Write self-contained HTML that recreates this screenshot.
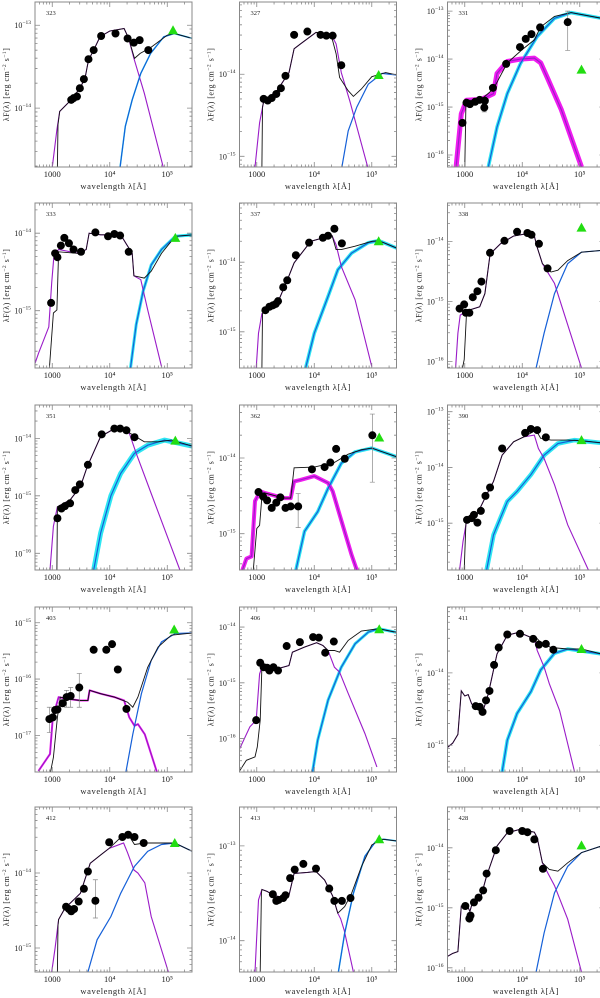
<!DOCTYPE html>
<html><head><meta charset="utf-8"><style>
html,body{margin:0;padding:0;background:#fff;}
svg{display:block;font-family:"Liberation Serif","DejaVu Serif",serif;}
</style></head><body>
<svg id="fig" width="600" height="998" viewBox="0 0 600 998" xmlns="http://www.w3.org/2000/svg"></svg>
<script>
// ---- data (log10 wavelength [A], log10 lambda F [erg cm^-2 s^-1]) ----
const p323_ylim=[-14.71,-12.72];
const p323_star=[[3.0,-14.71],[3.08,-14.26],[3.13,-14.04],[3.33,-13.9],[3.48,-13.76],[3.57,-13.64],[3.63,-13.42],[3.72,-13.3],[3.83,-13.14],[4.0,-13.07],[4.25,-13.04],[4.33,-13.16],[4.42,-13.4],[4.6,-13.82],[4.93,-14.71]];
const p323_total=[[3.09,-14.71],[3.1,-14.2],[3.13,-14.04],[3.33,-13.9],[3.48,-13.76],[3.57,-13.64],[3.63,-13.42],[3.72,-13.3],[3.83,-13.14],[4.0,-13.07],[4.25,-13.04],[4.33,-13.16],[4.43,-13.4],[4.53,-13.34],[4.71,-13.27],[5.0,-13.12],[5.12,-13.1],[5.44,-13.16]];
const p323_dust=[[4.18,-14.71],[4.27,-14.22],[4.39,-13.9],[4.54,-13.58],[4.71,-13.34],[4.94,-13.14],[5.12,-13.1],[5.44,-13.16]];
const p323_phot=[[3.33,-13.9],[3.37,-13.88],[3.43,-13.86],[3.48,-13.76],[3.55,-13.65],[3.63,-13.41],[3.72,-13.3],[3.85,-13.13],[4.1,-13.1],[4.31,-13.16],[4.42,-13.21],[4.52,-13.18],[4.67,-13.3]];
const p323_ir=[5.1,-13.06];

const p327_ylim=[-15.13,-13.12];
const p327_star=[[2.97,-15.13],[3.05,-14.59],[3.12,-14.33],[3.35,-14.2],[3.56,-13.98],[3.65,-13.69],[3.76,-13.63],[4.03,-13.49],[4.29,-13.51],[4.38,-13.63],[4.47,-13.98],[4.62,-14.33],[4.93,-15.13]];
const p327_total=[[3.09,-15.13],[3.1,-14.4],[3.12,-14.33],[3.35,-14.2],[3.56,-13.98],[3.65,-13.69],[3.76,-13.63],[4.03,-13.49],[4.29,-13.51],[4.38,-13.75],[4.44,-14.04],[4.59,-14.2],[4.68,-14.27],[4.82,-14.18],[5.0,-14.03],[5.24,-13.98],[5.45,-14.01]];
const p327_dust=[[4.48,-15.13],[4.59,-14.69],[4.74,-14.4],[4.94,-14.12],[5.18,-13.99],[5.45,-14.01]];
const p327_phot=[[3.12,-14.3],[3.19,-14.32],[3.26,-14.29],[3.34,-14.24],[3.42,-14.17],[3.5,-14.02],[3.65,-13.52],[3.88,-13.48],[4.11,-13.52],[4.21,-13.53],[4.32,-13.53],[4.47,-13.89]];
const p327_ir=[5.12,-14.01];

const p331_ylim=[-16.25,-12.81];
const p331_star=[[2.85,-16.25],[2.94,-15.14],[3.03,-14.86],[3.29,-14.84],[3.5,-14.72],[3.56,-14.3],[3.74,-14.05],[3.97,-14.0],[4.21,-13.98],[4.32,-14.08],[4.44,-14.4],[4.68,-15.06],[5.03,-16.25]];
const p331_total=[[3.0,-16.25],[3.02,-14.95],[3.03,-14.88],[3.29,-14.84],[3.5,-14.62],[3.74,-14.08],[4.0,-13.8],[4.21,-13.6],[4.32,-13.33],[4.56,-13.11],[4.85,-13.03],[5.38,-13.15]];
const p331_dust=[[3.41,-16.25],[3.56,-15.42],[3.74,-14.72],[3.97,-14.09],[4.26,-13.53],[4.56,-13.15],[4.85,-13.03],[5.38,-13.15]];
const p331_phot=[[2.96,-15.33],[3.03,-14.91],[3.09,-14.94],[3.18,-14.89],[3.26,-14.85],[3.35,-14.87],[3.34,-15.01],[3.49,-14.6],[3.72,-14.1],[3.96,-13.75],[4.06,-13.58],[4.16,-13.48],[4.31,-13.34],[4.79,-13.23]];
const p331_ir=[5.03,-14.22];
const p331_err=[[4.79,-13.0,-13.82],[3.34,-14.95,-15.1]];

const p333_ylim=[-15.74,-13.61];
const p333_star=[[2.7,-15.68],[2.76,-15.55],[2.94,-15.21],[2.99,-14.64],[3.03,-14.28],[3.11,-14.21],[3.46,-14.26],[3.59,-14.21],[3.64,-14.0],[3.84,-14.02],[4.19,-14.02],[4.28,-14.13],[4.39,-14.26],[4.42,-14.55],[4.54,-14.6],[4.66,-14.99],[4.9,-15.72]];
const p333_total=[[2.95,-15.74],[3.02,-15.03],[3.08,-14.99],[3.11,-14.24],[3.46,-14.26],[3.59,-14.21],[3.64,-14.0],[3.84,-14.02],[4.19,-14.02],[4.28,-14.13],[4.39,-14.26],[4.42,-14.55],[4.6,-14.58],[4.72,-14.49],[4.9,-14.26],[5.14,-14.04],[5.46,-14.02]];
const p333_dust=[[4.36,-15.74],[4.46,-15.18],[4.58,-14.75],[4.72,-14.41],[4.9,-14.21],[5.14,-14.04],[5.46,-14.02]];
const p333_phot=[[2.98,-14.9],[3.05,-14.26],[3.09,-14.31],[3.15,-14.16],[3.21,-14.06],[3.29,-14.13],[3.37,-14.21],[3.5,-14.24],[3.75,-13.99],[3.97,-14.04],[4.08,-14.01],[4.18,-14.03],[4.33,-14.24]];
const p333_ir=[5.14,-14.06];

const p337_ylim=[-15.52,-13.15];
const p337_star=[[2.99,-15.52],[3.03,-15.02],[3.09,-14.74],[3.18,-14.69],[3.38,-14.55],[3.53,-14.26],[3.65,-14.01],[3.94,-13.7],[4.24,-13.63],[4.31,-13.62],[4.38,-13.75],[4.47,-14.06],[4.71,-14.54],[5.0,-15.5]];
const p337_total=[[3.09,-15.52],[3.1,-14.74],[3.18,-14.69],[3.38,-14.55],[3.53,-14.26],[3.65,-14.01],[3.94,-13.7],[4.24,-13.63],[4.31,-13.62],[4.38,-13.82],[4.47,-13.82],[4.71,-13.77],[5.0,-13.7],[5.12,-13.69],[5.44,-13.8]];
const p337_dust=[[3.85,-15.52],[4.0,-15.02],[4.24,-14.49],[4.41,-14.11],[4.65,-13.87],[4.94,-13.72],[5.12,-13.69],[5.44,-13.8]];
const p337_phot=[[3.15,-14.69],[3.22,-14.64],[3.28,-14.62],[3.33,-14.6],[3.37,-14.56],[3.46,-14.36],[3.53,-14.26],[3.68,-13.9],[3.91,-13.72],[4.15,-13.65],[4.24,-13.62],[4.35,-13.52],[4.48,-13.73]];
const p337_ir=[5.12,-13.7];

const p338_ylim=[-16.11,-13.36];
const p338_star=[[2.84,-16.11],[2.88,-15.53],[2.92,-15.23],[2.97,-15.2],[3.06,-15.15],[3.26,-15.09],[3.35,-14.87],[3.44,-14.21],[3.62,-14.04],[3.85,-13.91],[4.03,-13.88],[4.21,-13.91],[4.26,-14.1],[4.35,-14.37],[4.56,-14.7],[5.03,-16.11]];
const p338_total=[[2.96,-16.11],[2.99,-15.97],[3.03,-15.2],[3.06,-15.15],[3.26,-15.09],[3.35,-14.87],[3.44,-14.21],[3.62,-14.04],[3.85,-13.91],[4.03,-13.88],[4.21,-13.91],[4.26,-14.1],[4.35,-14.37],[4.5,-14.51],[4.62,-14.48],[4.79,-14.32],[5.03,-14.18],[5.38,-14.15]];
const p338_dust=[[4.24,-16.11],[4.38,-15.53],[4.56,-14.87],[4.79,-14.37],[5.03,-14.18],[5.38,-14.15]];
const p338_phot=[[2.91,-15.12],[2.99,-15.05],[3.02,-15.19],[3.08,-15.19],[3.14,-14.93],[3.22,-14.83],[3.29,-14.67],[3.44,-14.19],[3.69,-13.99],[3.91,-13.84],[4.09,-13.86],[4.16,-13.89],[4.29,-14.04],[4.44,-14.45]];
const p338_ir=[5.03,-13.77];

const p351_ylim=[-16.29,-13.42];
const p351_star=[[2.96,-16.29],[3.02,-15.53],[3.09,-15.19],[3.31,-15.07],[3.49,-14.84],[3.61,-14.49],[3.84,-13.97],[4.08,-13.83],[4.22,-13.83],[4.34,-13.91],[4.46,-14.26],[4.72,-14.96],[5.22,-16.29]];
const p351_total=[[3.08,-16.29],[3.09,-15.19],[3.31,-15.07],[3.49,-14.84],[3.61,-14.49],[3.84,-13.97],[4.08,-13.83],[4.22,-13.83],[4.4,-13.94],[4.6,-14.06],[4.84,-14.06],[5.07,-14.03],[5.46,-14.14]];
const p351_dust=[[3.72,-16.29],[3.84,-15.65],[4.02,-15.0],[4.19,-14.61],[4.43,-14.26],[4.66,-14.12],[4.95,-14.03],[5.46,-14.14]];
const p351_phot=[[3.09,-15.39],[3.16,-15.22],[3.22,-15.18],[3.31,-15.13],[3.4,-14.9],[3.48,-14.8],[3.62,-14.46],[3.86,-13.93],[4.08,-13.83],[4.18,-13.83],[4.29,-13.86],[4.43,-13.98]];
const p351_ir=[5.14,-14.04];

const p362_ylim=[-15.48,-13.3];
const p362_star=[[2.75,-15.48],[2.82,-15.33],[2.91,-15.3],[2.97,-14.57],[3.06,-14.44],[3.13,-14.46],[3.47,-14.53],[3.59,-14.53],[3.65,-14.31],[3.76,-14.29],[4.0,-14.24],[4.24,-14.33],[4.32,-14.44],[4.44,-14.75],[4.65,-15.28],[4.74,-15.48]];
const p362_total=[[2.94,-15.48],[3.0,-14.93],[3.05,-14.89],[3.09,-14.51],[3.13,-14.46],[3.47,-14.53],[3.59,-14.53],[3.65,-14.13],[4.0,-14.12],[4.35,-14.06],[4.59,-13.95],[4.82,-13.89],[5.0,-13.87],[5.45,-13.99]];
const p362_dust=[[3.68,-15.48],[3.83,-14.97],[4.06,-14.71],[4.24,-14.4],[4.47,-14.07],[4.71,-13.92],[5.0,-13.87],[5.45,-13.99]];
const p362_phot=[[3.03,-14.45],[3.11,-14.51],[3.18,-14.56],[3.26,-14.66],[3.34,-14.59],[3.41,-14.52],[3.5,-14.66],[3.59,-14.64],[3.72,-14.64],[3.96,-14.15],[4.18,-14.12],[4.28,-14.06],[4.38,-13.88],[4.53,-14.01],[5.01,-13.7]];
const p362_ir=[5.13,-13.73];
const p362_err=[[5.01,-13.42,-14.32],[3.72,-14.47,-14.92]];

const p390_ylim=[-15.84,-12.88];
const p390_star=[[2.91,-15.84],[2.97,-15.33],[3.03,-14.97],[3.21,-14.85],[3.38,-14.49],[3.5,-14.25],[3.65,-13.78],[3.85,-13.54],[4.03,-13.45],[4.21,-13.42],[4.28,-13.66],[4.38,-13.84],[4.56,-14.31],[4.79,-15.03],[5.15,-15.84]];
const p390_total=[[2.99,-15.84],[3.02,-15.0],[3.03,-14.97],[3.21,-14.85],[3.38,-14.49],[3.5,-14.25],[3.65,-13.78],[3.85,-13.54],[4.03,-13.45],[4.24,-13.33],[4.32,-13.48],[4.5,-13.51],[4.79,-13.51],[5.03,-13.52],[5.38,-13.56]];
const p390_dust=[[3.38,-15.84],[3.5,-15.21],[3.74,-14.61],[3.91,-14.43],[4.15,-14.13],[4.38,-13.78],[4.62,-13.57],[4.91,-13.51],[5.38,-13.56]];
const p390_phot=[[3.04,-14.94],[3.12,-14.91],[3.16,-14.85],[3.22,-14.99],[3.28,-14.78],[3.36,-14.51],[3.44,-14.36],[3.65,-13.66],[4.05,-13.38],[4.15,-13.31],[4.26,-13.33],[4.41,-13.46]];
const p390_ir=[5.03,-13.51];

const p403_ylim=[-17.65,-14.72];
const p403_star=[[2.76,-17.63],[2.96,-17.33],[3.01,-16.68],[3.11,-16.32],[3.25,-16.35],[3.49,-16.38],[3.62,-16.38],[3.65,-16.2],[3.84,-16.26],[4.08,-16.32],[4.25,-16.38],[4.34,-16.68],[4.43,-16.83],[4.49,-16.8],[4.61,-16.98],[4.82,-17.65]];
const p403_total=[[2.97,-17.65],[3.02,-17.39],[3.09,-16.68],[3.14,-16.32],[3.25,-16.35],[3.49,-16.38],[3.62,-16.38],[3.65,-16.2],[3.84,-16.26],[4.08,-16.32],[4.31,-16.41],[4.4,-16.5],[4.49,-16.32],[4.66,-15.79],[4.84,-15.43],[5.07,-15.22],[5.46,-15.18]];
const p403_dust=[[4.28,-17.65],[4.4,-16.98],[4.55,-16.26],[4.72,-15.67],[4.9,-15.34],[5.14,-15.19],[5.46,-15.18]];
const p403_phot=[[2.95,-16.71],[3.01,-16.68],[3.05,-16.55],[3.09,-16.54],[3.18,-16.43],[3.25,-16.32],[3.32,-16.3],[3.47,-16.15],[3.72,-15.48],[3.94,-15.48],[4.04,-15.38],[4.14,-15.83],[4.29,-16.53]];
const p403_ir=[5.12,-15.12];
const p403_err=[[2.95,-16.5,-16.95],[3.32,-16.15,-16.5],[3.47,-15.9,-16.5],[3.25,-16.2,-16.5]];

const p406_ylim=[-16.6,-13.64];
const p406_star=[[2.69,-16.21],[2.88,-15.79],[2.99,-15.67],[3.05,-14.84],[3.09,-14.72],[3.35,-14.75],[3.56,-14.69],[3.62,-14.45],[3.83,-14.36],[4.04,-14.28],[4.15,-14.33],[4.24,-14.42],[4.35,-14.72],[4.44,-14.81],[4.59,-15.19],[4.88,-15.91],[5.09,-16.51]];
const p406_total=[[2.69,-16.6],[2.82,-16.39],[2.97,-16.33],[3.01,-16.15],[3.06,-15.67],[3.09,-14.72],[3.35,-14.75],[3.56,-14.69],[3.62,-14.45],[3.83,-14.36],[4.04,-14.28],[4.15,-14.33],[4.24,-14.42],[4.35,-14.42],[4.44,-14.45],[4.59,-14.24],[4.82,-14.07],[5.12,-14.03],[5.45,-14.1]];
const p406_dust=[[3.97,-16.6],[4.06,-16.03],[4.24,-15.31],[4.47,-14.72],[4.71,-14.3],[4.94,-14.09],[5.12,-14.03],[5.45,-14.1]];
const p406_phot=[[2.99,-15.67],[3.06,-14.64],[3.12,-14.72],[3.18,-14.73],[3.22,-14.78],[3.29,-14.72],[3.37,-14.78],[3.52,-14.34],[3.75,-14.27],[3.98,-14.18],[4.08,-14.19],[4.19,-14.46],[4.34,-14.26]];
const p406_ir=[5.13,-14.04];

const p411_ylim=[-15.37,-13.09];
const p411_star=[[2.7,-15.03],[2.79,-14.97],[2.88,-14.85],[2.94,-14.25],[3.0,-14.32],[3.06,-14.3],[3.12,-14.43],[3.21,-14.47],[3.32,-14.52],[3.41,-14.29],[3.56,-13.74],[3.74,-13.48],[3.94,-13.44],[4.15,-13.51],[4.21,-13.53],[4.26,-13.69],[4.38,-13.92],[4.47,-14.15],[4.65,-14.52],[4.91,-15.37]];
const p411_total=[[2.7,-15.03],[2.79,-14.97],[2.88,-14.85],[2.94,-14.25],[3.0,-14.32],[3.06,-14.3],[3.12,-14.43],[3.21,-14.47],[3.32,-14.52],[3.41,-14.29],[3.56,-13.74],[3.74,-13.48],[3.94,-13.44],[4.15,-13.51],[4.24,-13.51],[4.32,-13.58],[4.5,-13.65],[4.79,-13.67],[5.03,-13.67],[5.38,-13.74]];
const p411_dust=[[3.65,-15.37],[3.74,-14.93],[3.91,-14.56],[4.15,-14.26],[4.32,-13.96],[4.56,-13.73],[4.79,-13.67],[5.38,-13.74]];
const p411_phot=[[3.19,-14.46],[3.26,-14.47],[3.31,-14.54],[3.37,-14.38],[3.43,-14.25],[3.51,-13.89],[3.59,-13.65],[3.74,-13.47],[3.96,-13.46],[4.19,-13.53],[4.29,-13.61],[4.41,-13.6],[4.54,-13.68]];
const p411_ir=[5.03,-13.67];

const p412_ylim=[-15.32,-13.12];
const p412_star=[[2.99,-15.32],[3.05,-15.0],[3.11,-14.62],[3.22,-14.47],[3.49,-14.27],[3.66,-13.87],[3.84,-13.76],[3.99,-13.67],[4.24,-13.6],[4.31,-13.73],[4.42,-13.96],[4.49,-14.0],[4.61,-14.13],[4.72,-14.58],[5.02,-15.32]];
const p412_total=[[3.09,-15.32],[3.1,-14.7],[3.11,-14.62],[3.22,-14.47],[3.49,-14.27],[3.66,-13.87],[3.84,-13.76],[3.99,-13.67],[4.24,-13.49],[4.34,-13.51],[4.43,-13.62],[4.61,-13.6],[4.9,-13.6],[5.13,-13.6],[5.46,-13.72]];
const p412_dust=[[3.62,-15.32],[3.78,-14.89],[4.02,-14.58],[4.19,-14.27],[4.43,-13.91],[4.66,-13.71],[4.9,-13.62],[5.13,-13.6],[5.46,-13.72]];
const p412_phot=[[3.24,-14.45],[3.29,-14.48],[3.33,-14.51],[3.38,-14.48],[3.46,-14.38],[3.55,-14.21],[3.62,-13.98],[3.75,-14.37],[3.99,-13.59],[4.22,-13.52],[4.32,-13.49],[4.43,-13.52],[4.59,-13.6]];
const p412_ir=[5.13,-13.6];
const p412_err=[[3.75,-14.09,-14.6]];

const p413_ylim=[-14.33,-12.59];
const p413_star=[[2.97,-14.33],[3.03,-13.57],[3.09,-13.46],[3.18,-13.48],[3.29,-13.52],[3.47,-13.55],[3.56,-13.52],[3.65,-13.29],[3.88,-13.28],[4.03,-13.27],[4.18,-13.36],[4.32,-13.53],[4.41,-13.71],[4.46,-13.77],[4.52,-13.89],[4.68,-14.33]];
const p413_total=[[3.06,-14.33],[3.08,-13.5],[3.09,-13.46],[3.18,-13.48],[3.29,-13.52],[3.47,-13.55],[3.56,-13.52],[3.65,-13.29],[3.88,-13.28],[4.03,-13.27],[4.18,-13.36],[4.32,-13.53],[4.41,-13.71],[4.53,-13.64],[4.65,-13.5],[4.82,-13.22],[5.0,-12.99],[5.18,-12.93],[5.45,-12.95]];
const p413_dust=[[4.42,-14.33],[4.53,-13.92],[4.68,-13.5],[4.88,-13.11],[5.06,-12.96],[5.21,-12.93],[5.45,-12.95]];
const p413_phot=[[3.28,-13.51],[3.34,-13.58],[3.38,-13.57],[3.46,-13.55],[3.5,-13.52],[3.58,-13.34],[3.66,-13.25],[3.81,-13.19],[4.03,-13.24],[4.26,-13.45],[4.35,-13.58],[4.48,-13.58],[4.63,-13.55]];
const p413_ir=[5.13,-12.93];

const p428_ylim=[-16.07,-13.32];
const p428_star=[[2.7,-15.81],[2.79,-15.76],[2.88,-15.73],[2.94,-14.97],[3.03,-14.94],[3.09,-15.06],[3.15,-14.86],[3.26,-14.89],[3.38,-14.47],[3.56,-13.97],[3.74,-13.75],[3.97,-13.69],[4.21,-13.74],[4.26,-13.83],[4.35,-14.25],[4.56,-14.63],[4.79,-15.19],[5.03,-16.07]];
const p428_total=[[2.7,-15.81],[2.79,-15.76],[2.88,-15.73],[2.94,-14.97],[3.03,-14.94],[3.09,-15.06],[3.15,-14.86],[3.26,-14.89],[3.38,-14.47],[3.56,-13.97],[3.74,-13.75],[3.97,-13.69],[4.21,-13.74],[4.26,-13.83],[4.35,-14.25],[4.47,-14.36],[4.62,-14.39],[4.79,-14.25],[5.03,-14.08],[5.38,-13.97]];
const p428_dust=[[4.24,-16.07],[4.38,-15.42],[4.56,-14.75],[4.79,-14.31],[5.03,-14.08],[5.38,-13.97]];
const p428_phot=[[3.01,-14.97],[3.08,-15.18],[3.1,-15.13],[3.16,-14.91],[3.24,-14.83],[3.32,-14.71],[3.38,-14.43],[3.54,-14.04],[3.78,-13.72],[4.0,-13.72],[4.09,-13.74],[4.21,-13.86],[4.36,-14.35]];
const p428_ir=[5.03,-13.96];

const xTickLabels=["1000","10⁴","10⁵"];
const panelIds=["323","327","331","333","337","338","351","362","390","403","406","411","412","413","428"];

// ---- layout ----
const colX=[35,239.5,447.5];
const rowY=[2,203,405,607,807];
const PW=157, PH=165;
const XMIN=2.70, XMAX=5.43;

const panels=[
 {id:"323",ylim:p323_ylim,star:p323_star,total:p323_total,dust:p323_dust,phot:p323_phot,ir:p323_ir,err:[],dustBand:1.5,starBand:0},
 {id:"327",ylim:p327_ylim,star:p327_star,total:p327_total,dust:p327_dust,phot:p327_phot,ir:p327_ir,err:[],dustBand:0,starBand:0},
 {id:"331",ylim:p331_ylim,star:p331_star,total:p331_total,dust:p331_dust,phot:p331_phot,ir:p331_ir,err:p331_err,dustBand:3.5,starBand:5},
 {id:"333",ylim:p333_ylim,star:p333_star,total:p333_total,dust:p333_dust,phot:p333_phot,ir:p333_ir,err:[],dustBand:3,starBand:0},
 {id:"337",ylim:p337_ylim,star:p337_star,total:p337_total,dust:p337_dust,phot:p337_phot,ir:p337_ir,err:[],dustBand:3.5,starBand:0},
 {id:"338",ylim:p338_ylim,star:p338_star,total:p338_total,dust:p338_dust,phot:p338_phot,ir:p338_ir,err:[],dustBand:0,starBand:0},
 {id:"351",ylim:p351_ylim,star:p351_star,total:p351_total,dust:p351_dust,phot:p351_phot,ir:p351_ir,err:[],dustBand:5,starBand:0},
 {id:"362",ylim:p362_ylim,star:p362_star,total:p362_total,dust:p362_dust,phot:p362_phot,ir:p362_ir,err:p362_err,dustBand:3.5,starBand:4},
 {id:"390",ylim:p390_ylim,star:p390_star,total:p390_total,dust:p390_dust,phot:p390_phot,ir:p390_ir,err:[],dustBand:4.5,starBand:0},
 {id:"403",ylim:p403_ylim,star:p403_star,total:p403_total,dust:p403_dust,phot:p403_phot,ir:p403_ir,err:p403_err,dustBand:0,starBand:2},
 {id:"406",ylim:p406_ylim,star:p406_star,total:p406_total,dust:p406_dust,phot:p406_phot,ir:p406_ir,err:[],dustBand:3,starBand:0},
 {id:"411",ylim:p411_ylim,star:p411_star,total:p411_total,dust:p411_dust,phot:p411_phot,ir:p411_ir,err:[],dustBand:3.5,starBand:0},
 {id:"412",ylim:p412_ylim,star:p412_star,total:p412_total,dust:p412_dust,phot:p412_phot,ir:p412_ir,err:p412_err,dustBand:0,starBand:0},
 {id:"413",ylim:p413_ylim,star:p413_star,total:p413_total,dust:p413_dust,phot:p413_phot,ir:p413_ir,err:[],dustBand:1.5,starBand:0},
 {id:"428",ylim:p428_ylim,star:p428_star,total:p428_total,dust:p428_dust,phot:p428_phot,ir:p428_ir,err:[],dustBand:0,starBand:0}
];

const NS="http://www.w3.org/2000/svg";
const svg=document.getElementById("fig");
function mk(tag,attrs,parent){const e=document.createElementNS(NS,tag);for(const k in attrs)e.setAttribute(k,attrs[k]);(parent||svg).appendChild(e);return e;}

const defs=mk("defs",{});
panels.forEach((p,i)=>{
  const X0=colX[i%3], Y0=rowY[Math.floor(i/3)];
  const g=mk("g",{});
  
  
  const xs=v=>X0+(v-XMIN)/(XMAX-XMIN)*PW;
  const ys=v=>Y0+PH-(v-p.ylim[0])/(p.ylim[1]-p.ylim[0])*PH;
  const cp=mk("clipPath",{id:"clip"+i},defs);
  mk("rect",{x:X0,y:Y0,width:PW,height:PH},cp);
  const plot=mk("g",{"clip-path":"url(#clip"+i+")"},g);
  const pathOf=arr=>arr.map((q,k)=>(k?"L":"M")+xs(q[0]).toFixed(1)+","+ys(q[1]).toFixed(1)).join("");
  if(p.dustBand){const b=mk("path",{d:pathOf(p.dust),fill:"none",stroke:"#2ee6f2","stroke-width":p.dustBand,"stroke-linejoin":"round"},plot);
    
    }
  if(p.starBand){const b=mk("path",{d:pathOf(p.star),fill:"none",stroke:"#f01cf0","stroke-width":p.starBand,"stroke-linejoin":"round"},plot);
    
    }
  const st=mk("path",{d:pathOf(p.star),fill:"none",stroke:"#9a1bc8","stroke-width":1.1},plot);
  
  
  const du=mk("path",{d:pathOf(p.dust),fill:"none",stroke:"#1560d8","stroke-width":1.2},plot);
  
  
  const to=mk("path",{d:pathOf(p.total),fill:"none",stroke:"#111","stroke-width":0.9},plot);
  
  
  p.err.forEach(e=>{const l=mk("path",{d:"M"+xs(e[0])+","+ys(e[1])+"V"+ys(e[2])+"M"+(xs(e[0])-2.5)+","+ys(e[1])+"h5M"+(xs(e[0])-2.5)+","+ys(e[2])+"h5",stroke:"#888","stroke-width":0.7,fill:"none"},plot);
    
    });
  p.phot.forEach(q=>{const c=mk("circle",{cx:xs(q[0]),cy:ys(q[1]),r:4,fill:"#000"},plot);
    
    });
  const tx=xs(p.ir[0]), ty=ys(p.ir[1]);
  const tr=mk("polygon",{points:`${tx},${ty-5} ${tx-5},${ty+4} ${tx+5},${ty+4}`,fill:"#22dd11"},plot);
  
  
  const fr=mk("rect",{x:X0,y:Y0,width:PW,height:PH,fill:"none",stroke:"#888","stroke-width":1},g);
  
  
  let td="";
  for(let d=2;d<=5;d++){for(let m=1;m<10;m++){const v=d+Math.log10(m);if(v<XMIN||v>XMAX)continue;const x=xs(v),L=m===1?5:2.5;td+=`M${x},${Y0+PH}v${-L}M${x},${Y0}v${L}`;}}
  for(let d=Math.floor(p.ylim[0]);d<=Math.ceil(p.ylim[1]);d++){for(let m=1;m<10;m++){const v=d+Math.log10(m);if(v<p.ylim[0]||v>p.ylim[1])continue;const y=ys(v),L=m===1?5:2.5;td+=`M${X0},${y}h${L}M${X0+PW},${y}h${-L}`;}}
  mk("path",{d:td,stroke:"#888","stroke-width":0.8,fill:"none"},g);
  [3,4,5].forEach((v,k)=>{const t=mk("text",{x:xs(v),y:Y0+PH+10,"font-size":8.5,"text-anchor":"middle",fill:"#222"},g);t.textContent=xTickLabels[k];
    
    });
  for(let d=Math.ceil(p.ylim[0]);d<=Math.floor(p.ylim[1]);d++){const y=ys(d);
    const t=mk("text",{x:X0-4,y:y+3,"font-size":8,"text-anchor":"end",fill:"#222"},g);
    
    
    const a=mk("tspan",{},t);a.textContent="10";
    const s=mk("tspan",{dy:-4,"font-size":5.5},t);s.textContent="−"+(-d);}
  const idt=mk("text",{x:X0+11,y:Y0+13,"font-size":6.5,fill:"#222"},g);idt.textContent=p.id;
  
  
  const xt=mk("text",{x:X0+PW/2,y:Y0+PH+22,"font-size":8.5,"text-anchor":"middle",fill:"#222","letter-spacing":"0.6"},g);
  xt.textContent="wavelength λ[Å]";
  
  
  const yt=mk("text",{x:0,y:0,"font-size":8,"text-anchor":"middle",fill:"#222","letter-spacing":"0.5",transform:`translate(${X0-26},${Y0+PH/2}) rotate(-90)`},g);
  
  
  const a1=mk("tspan",{},yt);a1.textContent="λF(λ) [erg cm";
  const a2=mk("tspan",{dy:-3,"font-size":5.5},yt);a2.textContent="−2";
  const a3=mk("tspan",{dy:3},yt);a3.textContent=" s";
  const a4=mk("tspan",{dy:-3,"font-size":5.5},yt);a4.textContent="−1";
  const a5=mk("tspan",{dy:3},yt);a5.textContent="]";
});
</script>
</body></html>
